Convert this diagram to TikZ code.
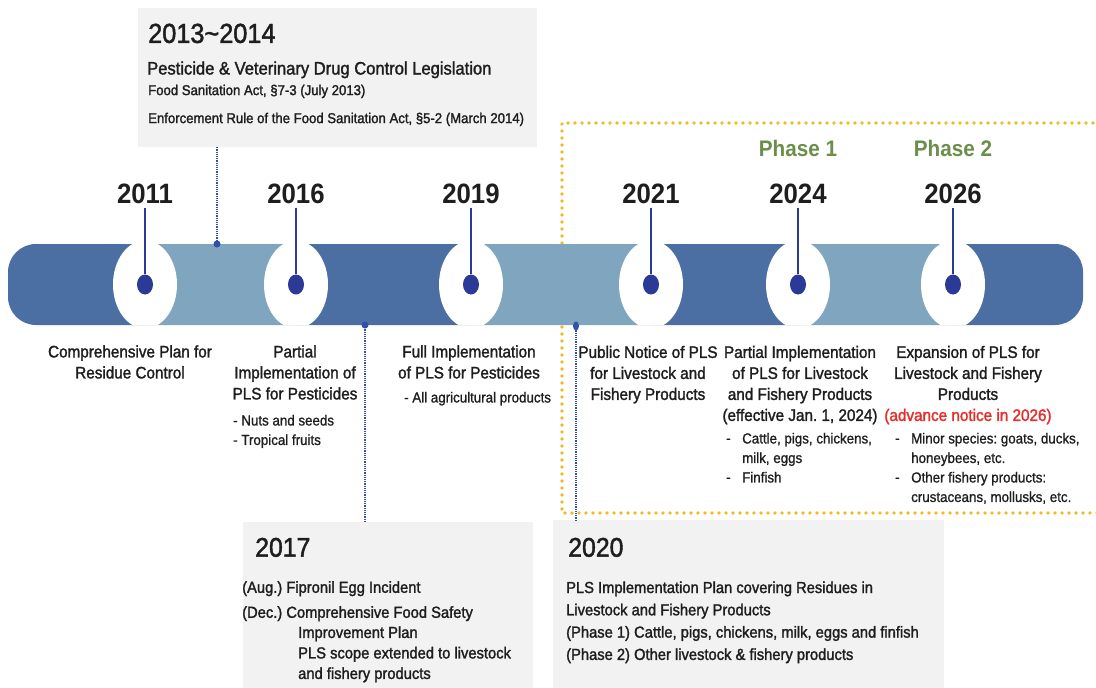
\documentclass[tikz,border=0pt]{standalone}
\usepackage{fontspec}
\setmainfont{Liberation Sans}[FakeStretch=0.92]
\newfontfamily\medf{Liberation Sans}[FakeStretch=0.92,FakeBold=1.6]
\newfontfamily\lgtf{Liberation Sans}[FakeStretch=0.92,FakeBold=1.0]
\usetikzlibrary{shapes.geometric}
\definecolor{bardark}{RGB}{76,111,163}
\definecolor{barlight}{RGB}{127,166,190}
\definecolor{navy}{RGB}{43,58,150}
\definecolor{connblue}{RGB}{50,80,170}
\definecolor{gold}{RGB}{240,186,36}
\definecolor{boxgray}{RGB}{242,242,242}
\definecolor{txt}{RGB}{30,30,30}
\definecolor{phasegreen}{RGB}{107,143,75}
\definecolor{notered}{RGB}{230,45,40}
\frenchspacing
\begin{document}
\begin{tikzpicture}[x=1pt,y=-1pt,
  yearlbl/.style={font=\bfseries\fontsize{28}{30}\selectfont, text=txt, anchor=base, inner xsep=0pt, inner ysep=4.5pt, text depth=0pt},
  phaselbl/.style={font=\bfseries\fontsize{22.5}{24}\selectfont, text=phasegreen, anchor=base, inner sep=0pt},
  desc/.style={font=\medf\fontsize{16.6}{21}\selectfont, text=txt, align=center, anchor=north, inner sep=0pt},
  bul/.style={font=\lgtf\fontsize{14.5}{19.5}\selectfont, text=txt, align=left, anchor=north west, inner sep=0pt},
  bulletmark/.style={font=\lgtf\fontsize{14.5}{19.5}\selectfont, text=txt, anchor=base west, inner sep=0pt},
  hole/.style={ellipse, fill=white, minimum width=64pt, minimum height=88pt, inner sep=0pt},
  dotmark/.style={ellipse, fill=navy, minimum width=16pt, minimum height=20pt, inner sep=0pt},
  yline/.style={draw=navy, line width=1.5pt},
  connline/.style={draw=connblue, line width=1.6pt, dash pattern=on 1.2pt off 1pt},
  goldline/.style={draw=gold, line width=3.8pt, line cap=round, dash pattern=on 0pt off 7pt},
  infobox/.style={fill=boxgray, inner sep=0pt},
  boxhead/.style={font=\medf\fontsize{27}{30}\selectfont, text=txt, anchor=base west, inner sep=0pt},
  boxtext/.style={font=\medf\fontsize{16}{21}\selectfont, text=txt, anchor=base west, inner sep=0pt},
  boxsmall/.style={font=\medf\fontsize{14.3}{18}\selectfont, text=txt, anchor=base west, inner sep=0pt}
]
\useasboundingbox (0,0) rectangle (1096,688);
\fill[white] (0,0) rectangle (1096,688);

% grey information boxes
\node[infobox, minimum width=399pt, minimum height=139pt] (tb) at (337.5,77.5) {};
\node[infobox, minimum width=290pt, minimum height=166pt] (b2017) at (388,605) {};
\node[infobox, minimum width=391pt, minimum height=168pt] (b2020) at (748.5,604) {};

% gold dotted frame for the phased period
\begin{scope}
\clip (0,0) rectangle (1096,688);
\draw[goldline] (1100,123) -- (562,123) -- (562,513) -- (1100,513);
\end{scope}

% timeline bar
\begin{scope}
\clip[rounded corners=28pt] (8,244) rectangle (1083,325);
\fill[bardark]  (0,240)   rectangle (145,330);
\fill[barlight] (145,240) rectangle (296,330);
\fill[bardark]  (296,240) rectangle (471,330);
\fill[barlight] (471,240) rectangle (651,330);
\fill[bardark]  (651,240) rectangle (798,330);
\fill[barlight] (798,240) rectangle (953,330);
\fill[bardark]  (953,240) rectangle (1100,330);
\foreach \n/\x in {2011/145,2016/296,2019/471,2021/651,2024/798,2026/953}
  \node[hole] (h\n) at (\x,284.5) {};
\end{scope}

% years, marker lines and dots
\foreach \n/\x in {2011/145,2016/296,2019/471,2021/651,2024/798,2026/953}{
  \node[yearlbl] (y\n) at (\x,203) {\n};
  \node[dotmark] (d\n) at (\x,284.5) {};
  \draw[yline] (y\n.south) -- (d\n);
}
\node[phaselbl] (ph1) at (798,156) {Phase 1};
\node[phaselbl] (ph2) at (953,156) {Phase 2};

% connectors to the info boxes
\coordinate (c1) at (217,244);
\coordinate (c2) at (365,325);
\coordinate (c3) at (576,326);
\draw[connline] (tb.south -| c1) -- (c1);
\draw[connline] (c2) -- (c2 |- b2017.north);
\draw[connline] (c3) -- (c3 |- b2020.north);
\fill[connblue] (c1) circle (3.5pt);
\fill[connblue] (c2) circle (3.5pt);
\fill[connblue] (c3) ellipse (3pt and 4.5pt);

% top box text
\node[boxhead] (tb1) at (148,42.9) {\fontsize{27.5}{30}\selectfont 2013\textasciitilde 2014};
\node[boxtext] (tb2) at (147,74.5) {\fontsize{18}{22}\selectfont Pesticide \& Veterinary Drug Control Legislation};
\node[boxsmall] (tb3) at (148,95.1) {Food Sanitation Act, §7-3 (July 2013)};
\node[boxsmall] (tb4) at (148,123.1) {Enforcement Rule of the Food Sanitation Act, §5-2 (March 2014)};

% descriptions under the bar
\node[desc] (t2011) at (130,342.5) {\strut Comprehensive Plan for\\Residue Control};
\node[desc] (t2016) at (295,342.5) {\strut Partial\\Implementation of\\PLS for Pesticides};
\node[bul] (l2016) at (233,411.6) {\strut - Nuts and seeds\\- Tropical fruits};
\node[desc] (t2019) at (469,342.5) {\strut Full Implementation\\of PLS for Pesticides};
\node[bul] (l2019) at (404,388.6) {\strut - All agricultural products};
\node[desc] (t2021) at (648,343) {\strut Public Notice of PLS\\for Livestock and\\Fishery Products};
\node[desc] (t2024) at (800,343) {\strut Partial Implementation\\of PLS for Livestock\\and Fishery Products\\(effective Jan. 1, 2024)};
\node[bul] (l2024) at (742,429.6) {\strut Cattle, pigs, chickens,\\milk, eggs\\Finfish};
\node[bulletmark] (m2024a) at (726,443.2) {-};
\node[bulletmark] (m2024b) at (726,482.2) {-};
\node[desc] (t2026) at (968,343) {\strut Expansion of PLS for\\Livestock and Fishery\\Products\\\textcolor{notered}{(advance notice in 2026)}};
\node[bul] (l2026) at (911,429.6) {\strut Minor species: goats, ducks,\\honeybees, etc.\\Other fishery products:\\crustaceans, mollusks, etc.};
\node[bulletmark] (m2026a) at (895,443.2) {-};
\node[bulletmark] (m2026b) at (895,482.2) {-};

% 2017 box text
\node[boxhead] (h2017) at (255,556.7) {2017};
\node[boxtext] (a2017) at (242,592.8) {(Aug.) Fipronil Egg Incident};
\node[boxtext] (e2017) at (242,617.8) {(Dec.) Comprehensive Food Safety};
\node[boxtext, anchor=north west, align=left, font=\medf\fontsize{16}{20.5}\selectfont] (f2017) at (298,623.4) {\strut Improvement Plan\\PLS scope extended to livestock\\and fishery products};

% 2020 box text
\node[boxhead] (h2020) at (568,556.7) {2020};
\node[boxtext, anchor=north west, align=left, font=\medf\fontsize{16}{22.3}\selectfont] (p2020) at (566,577.2) {\strut PLS Implementation Plan covering Residues in\\Livestock and Fishery Products\\(Phase 1) Cattle, pigs, chickens, milk, eggs and finfish\\(Phase 2) Other livestock \& fishery products};
\end{tikzpicture}
\end{document}
